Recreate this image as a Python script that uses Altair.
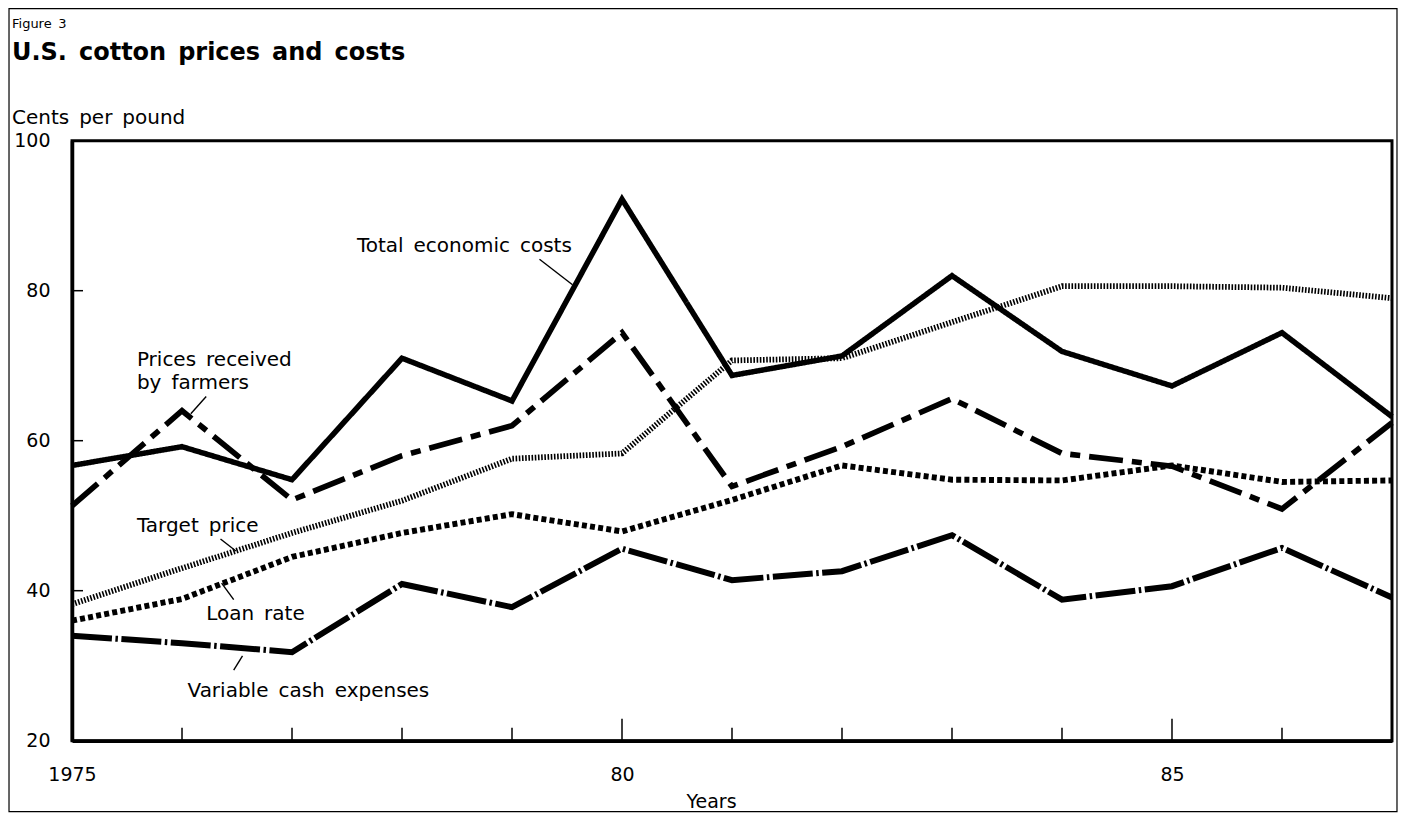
import altair as alt
import pandas as pd

# ---------------- data ----------------
years = list(range(1975, 1988))
total_costs = [56.7, 59.2, 54.8, 71.0, 65.3, 92.2, 68.7, 71.3, 82.0, 71.9, 67.3, 74.4, 63.2]
prices_received = [51.3, 64.0, 52.1, 58.0, 62.0, 74.4, 53.9, 59.2, 65.6, 58.3, 56.6, 50.9, 62.4]
target_price = [38.2, 43.0, 47.7, 52.0, 57.6, 58.3, 70.7, 71.0, 75.8, 80.6, 80.6, 80.4, 79.0]
loan_rate = [36.0, 38.9, 44.5, 47.7, 50.2, 47.9, 52.1, 56.7, 54.8, 54.7, 56.7, 54.5, 54.7]
variable_cash = [34.0, 33.0, 31.8, 40.9, 37.8, 45.6, 41.4, 42.6, 47.4, 38.8, 40.6, 45.7, 39.1]

series_names = ["Total economic costs", "Prices received by farmers", "Target price",
                "Loan rate", "Variable cash expenses"]

x_label_years = [1975, 1980, 1985]
x_label_text = ["1975", "80", "85"]
y_label_values = [20, 40, 60, 80, 100]
x_minor_ticks = list(range(1976, 1987))
x_major_ticks = [1980, 1985]
y_ticks = [40, 60, 80]

SP = "\u2002"  # wide word spacing as in the original typesetting
ann_text = ["Total" + SP + "economic" + SP + "costs", "Prices" + SP + "received",
            "by" + SP + "farmers", "Target" + SP + "price", "Loan" + SP + "rate",
            "Variable" + SP + "cash" + SP + "expenses"]
ann_x = [1977.59, 1975.59, 1975.59, 1975.59, 1976.22, 1976.05]
ann_y = [85.1, 70.0, 66.85, 47.76, 36.1, 25.8]

lead_x = [1979.25, 1976.22, 1976.35, 1976.36, 1976.55]
lead_y = [84.2, 65.9, 46.9, 41.0, 31.3]
lead_x2 = [1979.55, 1976.08, 1976.49, 1976.47, 1976.47]
lead_y2 = [80.8, 63.6, 45.3, 38.8, 29.4]

# ---------------- layout ----------------
W, H = 1320, 600
X0, X1, Y0, Y1 = 1975, 1987, 20, 100
PX_X = W / (X1 - X0)
PX_Y = H / (Y1 - Y0)
FONT = "DejaVu Sans"

long = pd.concat([pd.DataFrame({"year": years, "value": v, "series": k}) for k, v in zip(
    series_names, [total_costs, prices_received, target_price, loan_rate, variable_cash])])

xs = alt.Scale(domain=[X0, X1], nice=False, zero=False)
ys = alt.Scale(domain=[Y0, Y1], nice=False, zero=False)

label_expr = " : ".join(f"datum.value == {y} ? '{t}'" for y, t in zip(x_label_years, x_label_text)) + " : ''"

x_axis = alt.Axis(values=x_label_years, labelExpr=label_expr, ticks=False, tickSize=0,
                  domain=True, domainColor="black", domainWidth=3.5, grid=False,
                  labelFont=FONT, labelFontSize=19, labelColor="black", labelPadding=24.5,
                  labelFlush=False, labelOverlap=False,
                  title="Years", titleFont=FONT, titleFontSize=19, titleFontWeight="normal",
                  titleColor="black", titleX=639, titleY=67, titleBaseline="alphabetic",
                  titleAlign="center")
y_axis = alt.Axis(values=y_label_values, ticks=False, tickSize=0, domain=True,
                  domainColor="black", domainWidth=3.5, grid=False,
                  labelFont=FONT, labelFontSize=19, labelColor="black", labelPadding=22,
                  labelOverlap=False, title=None)


def X(f):
    return alt.X(f, type="quantitative", scale=xs, axis=x_axis)


def Y(f):
    return alt.Y(f, type="quantitative", scale=ys, axis=y_axis)


dashes = [[1, 0], [34, 9, 10, 9], [1.6, 1.6], [5, 3.2], [40, 3.5, 2.5, 3.5]]
widths = [5.5, 6, 6.5, 6.5, 6]

lines = alt.Chart(long).mark_line(stroke="black", strokeJoin="miter", strokeCap="butt").encode(
    x=X("year"), y=Y("value"),
    detail="series:N",
    strokeDash=alt.StrokeDash("series:N", scale=alt.Scale(domain=series_names, range=dashes), legend=None),
    strokeWidth=alt.StrokeWidth("series:N", scale=alt.Scale(domain=series_names, range=widths), legend=None),
)

# inward ticks
MINOR_LEN, MAJOR_LEN, YTICK_LEN = 13, 22, 11
xt = pd.DataFrame({"year": x_minor_ticks})
xt["y"] = Y0
xt["y2"] = [Y0 + (MAJOR_LEN if v in x_major_ticks else MINOR_LEN) / PX_Y for v in x_minor_ticks]
xticks = alt.Chart(xt).mark_rule(color="black", strokeWidth=1.5).encode(
    x=X("year"), y=Y("y"), y2="y2:Q")

yt = pd.DataFrame({"v": y_ticks})
yt["x"] = X0
yt["x2"] = X0 + YTICK_LEN / PX_X
yticks = alt.Chart(yt).mark_rule(color="black", strokeWidth=1.5).encode(
    x=X("x"), x2="x2:Q", y=Y("v"))

# annotations
ann = pd.DataFrame({"t": ann_text, "x": ann_x, "y": ann_y})
ann_layer = alt.Chart(ann).mark_text(font=FONT, fontSize=20, color="black", align="left",
                                     baseline="alphabetic").encode(x=X("x"), y=Y("y"), text="t:N")

lead = pd.DataFrame({"x": lead_x, "y": lead_y, "x2": lead_x2, "y2": lead_y2})
lead_layer = alt.Chart(lead).mark_rule(color="black", strokeWidth=1.4).encode(
    x=X("x"), y=Y("y"), x2="x2:Q", y2="y2:Q")

# headings
one = pd.DataFrame({"a": [0]})
fig_label = alt.Chart(pd.DataFrame({"t": ["Figure" + SP + "3"]})).mark_text(
    font=FONT, fontSize=13, color="black", align="left", baseline="alphabetic").encode(
    text="t:N", x=alt.value(-60), y=alt.value(-112.7))
title = alt.Chart(pd.DataFrame({"t": ["U.S." + SP + "cotton" + SP + "prices" + SP + "and" + SP + "costs"]})).mark_text(
    font=FONT, fontSize=24, fontWeight="bold", color="black", align="left", baseline="alphabetic").encode(
    text="t:N", x=alt.value(-60), y=alt.value(-80.7))
unit = alt.Chart(pd.DataFrame({"t": ["Cents" + SP + "per" + SP + "pound"]})).mark_text(
    font=FONT, fontSize=20, color="black", align="left", baseline="alphabetic").encode(
    text="t:N", x=alt.value(-60), y=alt.value(-16.7))
frame = alt.Chart(one).mark_rect(fillOpacity=0, stroke="black", strokeWidth=1.2).encode(
    x=alt.value(-63), x2=alt.value(W + 5), y=alt.value(-132), y2=alt.value(H + 71))

chart = alt.layer(lines, xticks, yticks, lead_layer, ann_layer, fig_label, title, unit, frame).properties(
    width=W, height=H,
    autosize=alt.AutoSizeParams(type="none"),
    padding={"left": 64, "top": 132.7, "right": 6, "bottom": 72},
    background="white",
).configure_view(stroke="black", strokeWidth=3)

chart.save("out.html", embed_options={"renderer": "svg", "actions": False})
